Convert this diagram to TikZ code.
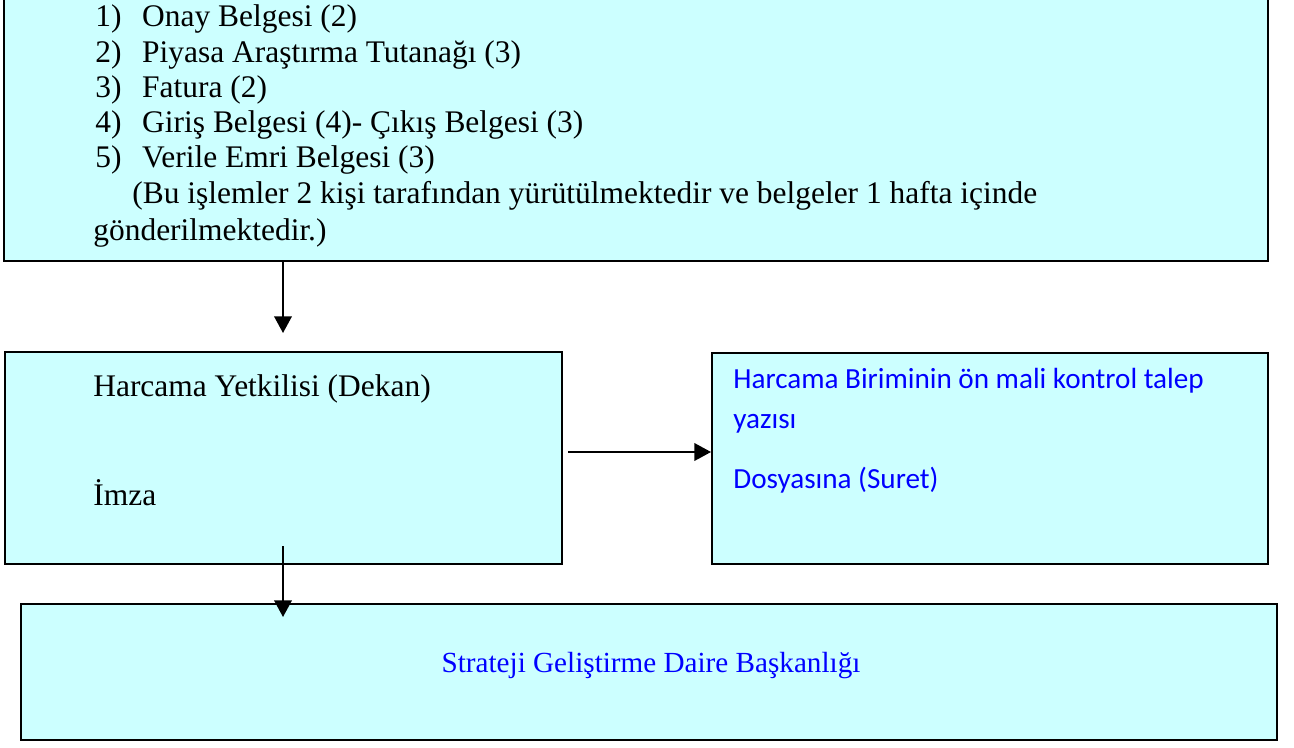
\documentclass[tikz,border=0pt]{standalone}
\usepackage{fontspec}
\setmainfont{Liberation Serif}
\newfontfamily\calibrifont{Carlito}
\usepackage{xcolor}
\usepackage{tikz}
\usetikzlibrary{positioning, fit, arrows.meta}

\definecolor{boxcyan}{HTML}{CCFFFF}
\definecolor{textblue}{HTML}{0000FF}
\newcommand{\itemno}[1]{\makebox[26.7pt][l]{#1}}

\begin{document}
\begin{tikzpicture}[
    x=0.02cm, y=-0.02cm,
    box_style/.style={rectangle, draw=black, fill=boxcyan, line width=1.1pt, inner sep=0pt},
    serif_text/.style={anchor=base west, inner sep=0pt, font=\fontsize{17.9}{21}\selectfont},
    calibri_text/.style={anchor=base west, inner sep=0pt, text=textblue, font=\calibrifont\fontsize{16.6}{20}\selectfont},
    arrow_style/.style={draw=black, line width=1.1pt, -{Triangle[length=9.5pt, width=10pt]}}
]

\useasboundingbox (0,0) rectangle (1294,747);

% Boxes
\node[box_style, fit={(4,-10) (1268,261)}] (docs) {};
\node[box_style, fit={(5,352) (562,564)}] (dekan) {};
\node[box_style, fit={(712,353) (1268,564)}] (memo) {};
\node[box_style, fit={(21,604) (1277,740)}] (sgdb) {};

% Text of the top box
\node[serif_text] (item1) at (95,27) {\itemno{1)}Onay Belgesi (2)};
\node[serif_text] (item2) at (95,62) {\itemno{2)}Piyasa Araştırma Tutanağı (3)};
\node[serif_text] (item3) at (95,97) {\itemno{3)}Fatura (2)};
\node[serif_text] (item4) at (95,132) {\itemno{4)}Giriş Belgesi (4)- Çıkış Belgesi (3)};
\node[serif_text] (item5) at (95,167) {\itemno{5)}Verile Emri Belgesi (3)};
\node[serif_text] (note1) at (132,203) {(Bu işlemler 2 kişi tarafından yürütülmektedir ve belgeler 1 hafta içinde};
\node[serif_text] (note2) at (93,240) {gönderilmektedir.)};

% Text of the middle boxes
\node[serif_text] (dekan_title) at (93,396) {Harcama Yetkilisi (Dekan)};
\node[serif_text] (dekan_sign) at (93,505) {İmza};
\node[calibri_text] (memo1) at (733,388) {Harcama Biriminin ön mali kontrol talep};
\node[calibri_text] (memo2) at (733,428) {yazısı};
\node[calibri_text] (memo3) at (733,488) {Dosyasına (Suret)};

% Text of the bottom box
\node[serif_text, anchor=base, text=textblue, font=\fontsize{16.6}{20}\selectfont] (sgdb_title) at (651,672) {Strateji Geliştirme Daire Başkanlığı};

% Arrows
\coordinate (a1_end) at (283,333);
\coordinate (a2_start) at (568,452);
\coordinate (a3_start) at (283,546);
\coordinate (a3_end) at (283,617);
\draw[arrow_style] (docs.south -| a1_end) -- (a1_end);
\draw[arrow_style] (a2_start) -- (a2_start -| memo.west);
\draw[arrow_style] (a3_start) -- (a3_end);

\end{tikzpicture}
\end{document}
